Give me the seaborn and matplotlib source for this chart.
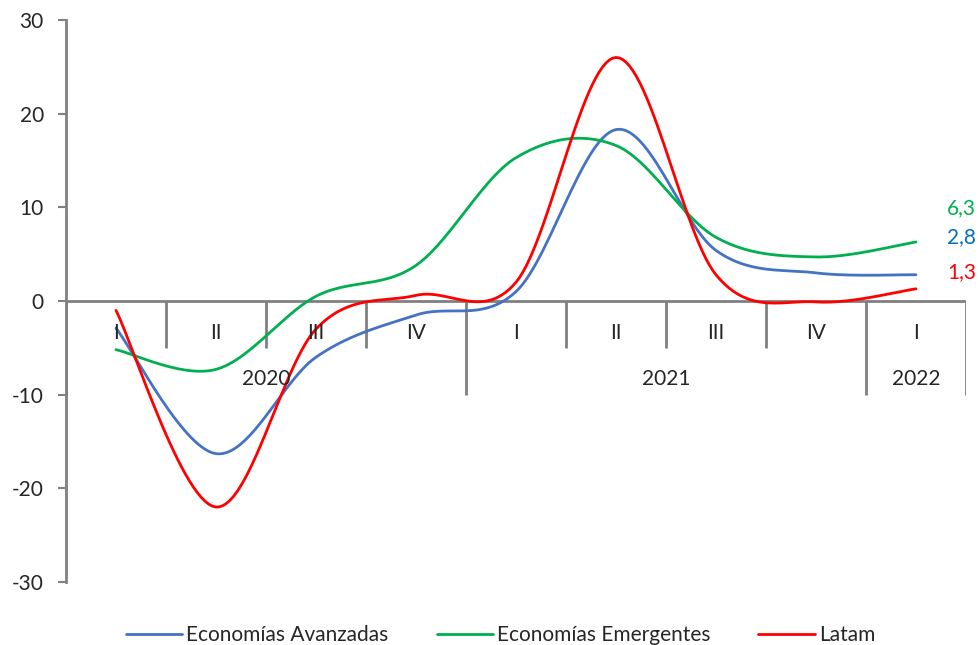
"""Quarterly growth: advanced vs emerging economies vs Latam."""

import matplotlib.pyplot as plt
import numpy as np
import pandas as pd
import seaborn as sns

QUARTERS = ["I", "II", "III", "IV", "I", "II", "III", "IV", "I"]
YEARS = ["2020", "2021", "2022"]
YEAR_SPANS = [(0, 3), (4, 7), (8, 8)]

AVANZADAS = [-2.9, -16.3, -6.0, -1.5, 1.0, 18.3, 5.4, 3.0, 2.8]
EMERGENTES = [-5.2, -7.3, 0.5, 3.8, 15.3, 16.6, 6.8, 4.7, 6.3]
LATAM = [-1.0, -22.0, -3.0, 0.6, 2.0, 26.0, 2.8, -0.1, 1.3]

SERIES = {
    "Economías Avanzadas": (AVANZADAS, "#4472C4", "#0070C0"),
    "Economías Emergentes": (EMERGENTES, "#00B050", "#00B050"),
    "Latam": (LATAM, "#FF0000", "#FF0000"),
}
GRAY = "#808080"


def smooth(values, steps=30):
    """Excel-style smoothed line through the points (cubic Bezier)."""
    pts = np.column_stack([np.arange(len(values)), values]).astype(float)
    padded = np.vstack([pts[:1], pts, pts[-1:]])
    out = []
    t = np.linspace(0, 1, steps)[:, None]
    for i in range(len(pts) - 1):
        p0, p1 = padded[i + 1], padded[i + 2]
        c1 = p0 + (padded[i + 2] - padded[i]) / 6
        c2 = p1 - (padded[i + 3] - padded[i + 1]) / 6
        seg = ((1 - t) ** 3) * p0 + 3 * ((1 - t) ** 2) * t * c1 \
            + 3 * (1 - t) * t ** 2 * c2 + t ** 3 * p1
        out.append(seg if i == 0 else seg[1:])
    return np.vstack(out)


frames = []
for name, (vals, _, _) in SERIES.items():
    xy = smooth(vals)
    frames.append(pd.DataFrame({"x": xy[:, 0], "y": xy[:, 1], "serie": name}))
df = pd.concat(frames, ignore_index=True)

sns.set_theme(style="white")
plt.rcParams["font.family"] = ["Lato", "DejaVu Sans"]
plt.rcParams["axes.unicode_minus"] = False

fig = plt.figure(figsize=(9.79, 6.45), dpi=100)
ax = fig.add_axes([0.0674, 0.0977, 0.9193, 0.8713])

palette = {name: c for name, (_, c, _) in SERIES.items()}
sns.lineplot(data=df, x="x", y="y", hue="serie", palette=palette,
             linewidth=2.0, sort=False, estimator=None, ax=ax, legend=True)

ax.set_xlim(-0.5, 8.5)
ax.set_ylim(-30, 30)
ax.set_yticks(range(-30, 31, 10))
ax.tick_params(axis="y", length=6, width=1.5, color=GRAY, labelsize=15,
               pad=10, left=True)
ax.set_xticks([])
ax.set_xlabel("")
ax.set_ylabel("")
for side in ["top", "right", "bottom"]:
    ax.spines[side].set_visible(False)
ax.spines["left"].set_color(GRAY)
ax.spines["left"].set_linewidth(2)

# category axis at zero
ax.axhline(0, color=GRAY, linewidth=2, zorder=1)
year_edges = {s - 0.5 for s, _ in YEAR_SPANS} | {8.5}
for b in np.arange(-0.5, 9.0, 1.0):
    low = -10.0 if b in year_edges else -5.0
    ax.plot([b, b], [0, low], color=GRAY, linewidth=2, zorder=1,
            solid_capstyle="butt")
for i, q in enumerate(QUARTERS):
    ax.text(i, -3.4, q, ha="center", va="center", fontsize=15)
for year, (s, e) in zip(YEARS, YEAR_SPANS):
    ax.text((s + e) / 2, -8.3, year, ha="center", va="center", fontsize=15)

# end labels
end_y = {"Economías Emergentes": 9.9, "Economías Avanzadas": 6.8, "Latam": 3.1}
for name, y in end_y.items():
    vals, _, txt_color = SERIES[name]
    ax.text(8.6, y, f"{vals[-1]:.1f}".replace(".", ","), ha="right",
            va="center", fontsize=15, color=txt_color, clip_on=False)

leg = ax.legend(loc="upper center", bbox_to_anchor=(0.483, -0.043), ncol=3,
                frameon=False, fontsize=15, handlelength=2.7,
                handletextpad=0.2, columnspacing=2.3)
for line in leg.get_lines():
    line.set_linewidth(2.0)

fig.savefig("out.png", dpi=100)
